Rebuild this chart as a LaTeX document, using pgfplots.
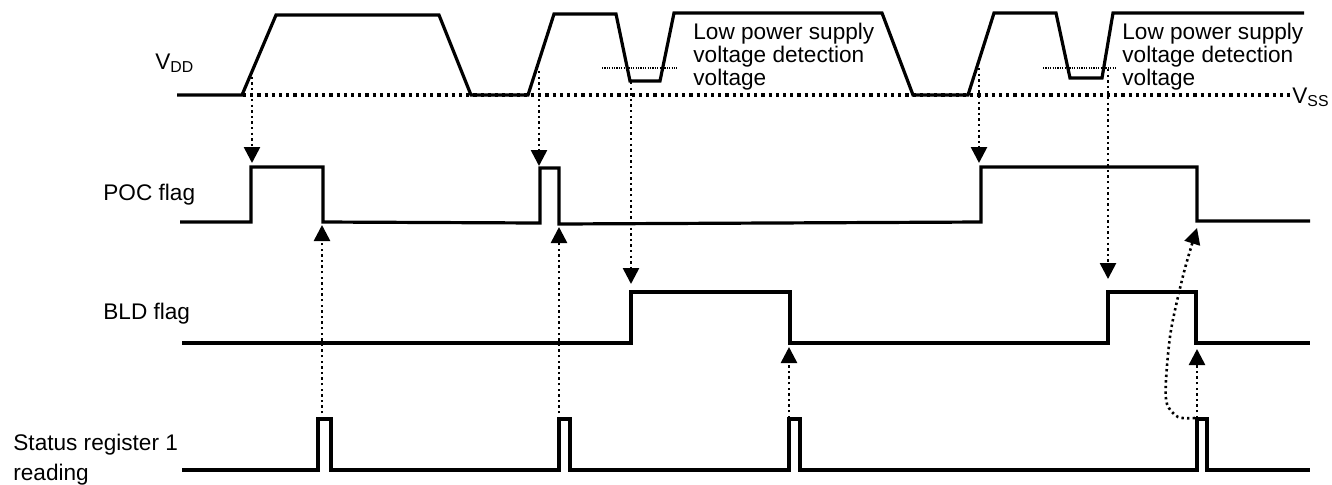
\documentclass[border=0pt]{standalone}
\usepackage{pgfplots}
\pgfplotsset{compat=1.18}
\usetikzlibrary{arrows.meta}
\usepackage{fontspec}
\setmainfont{Liberation Sans}
\tikzset{lbl/.style={anchor=base west, inner sep=0pt, font=\fontsize{11.3}{10.3}\selectfont}}
\begin{document}
\begin{tikzpicture}
\begin{axis}[hide axis, scale only axis, width=666pt, height=242pt,
  xmin=0, xmax=1332, ymin=0, ymax=484, y dir=reverse, clip=false,
  sig/.style={black, line width=1.6pt, no markers, line join=miter},
  arr/.style={black, line width=1.3pt, dash pattern=on 1.2pt off 1.6pt, no markers,
     -{Triangle[width=8pt,length=8pt]}},
]
% Vss reference line
\addplot[black, line width=1.6pt, dash pattern=on 1.6pt off 2pt, no markers] coordinates {(243,95) (1290,95)};
% detection level lines
\addplot[black, line width=0.6pt, dash pattern=on 0.6pt off 0.6pt, no markers] coordinates {(602,68) (677,68)};
\addplot[black, line width=0.6pt, dash pattern=on 0.6pt off 0.6pt, no markers] coordinates {(1043,68) (1117,68)};
% VDD
\addplot[sig] coordinates {(177,95) (242,95) (276,15) (439,15) (471,95) (528,95) (554,14) (616,14) (630,81) (660,81) (674,13) (882,13) (913,95) (968,95) (994,13) (1056,13) (1070,78) (1102,78) (1113,13) (1304,13)};
% POC flag
\addplot[sig] coordinates {(180,222) (251,222) (251,167) (323,167) (323,222) (540,223) (540,168) (559,168) (559,224) (981,222) (981,167) (1197,167) (1197,221) (1310,221)};
% BLD flag
\addplot[sig] coordinates {(182,343) (631,343) (631,292) (790,292) (790,343) (1108,343) (1108,292) (1196,292) (1196,343) (1310,343)};
% Status register 1 reading
\addplot[sig] coordinates {(182,470) (318,470) (318,419) (331,419) (331,470) (559,470) (559,419) (570,419) (570,470) (789,470) (789,419) (800,419) (800,470) (1197,470) (1197,419) (1207,419) (1207,470) (1310,470)};
% down arrows
\addplot[arr] coordinates {(252,71) (252,163)};
\addplot[arr] coordinates {(539,71) (539,166)};
\addplot[arr] coordinates {(631,82) (631,284)};
\addplot[arr] coordinates {(979,68) (979,163)};
\addplot[arr] coordinates {(1108,69) (1108,279)};
% up arrows
\addplot[arr] coordinates {(322,419) (322,225)};
\addplot[arr] coordinates {(559,419) (559,227)};
\addplot[arr] coordinates {(789,418) (789,347)};
\addplot[arr] coordinates {(1197,418) (1197,349)};
\addplot[arr, smooth] coordinates {(1195,418) (1178,417) (1167,404) (1166,380) (1171,330) (1184,272) (1197,228)};
% labels
\node[lbl] at (axis cs:155,69) {V\textsubscript{DD}};
\node[lbl] at (axis cs:103,200) {POC flag};
\node[lbl] at (axis cs:103,319) {BLD flag};
\node[lbl] at (axis cs:13,450) {Status register 1};
\node[lbl] at (axis cs:13,480) {reading};
\node[lbl] at (axis cs:1292,103) {V\textsubscript{SS}};
\node[lbl, align=left, anchor=north west] at (axis cs:693,23) {Low power supply\\voltage detection\\voltage};
\node[lbl, align=left, anchor=north west] at (axis cs:1122,23) {Low power supply\\voltage detection\\voltage};
\end{axis}
\pgfresetboundingbox
\path[use as bounding box] (current axis.south west) rectangle (current axis.north east);
\end{tikzpicture}
\end{document}
